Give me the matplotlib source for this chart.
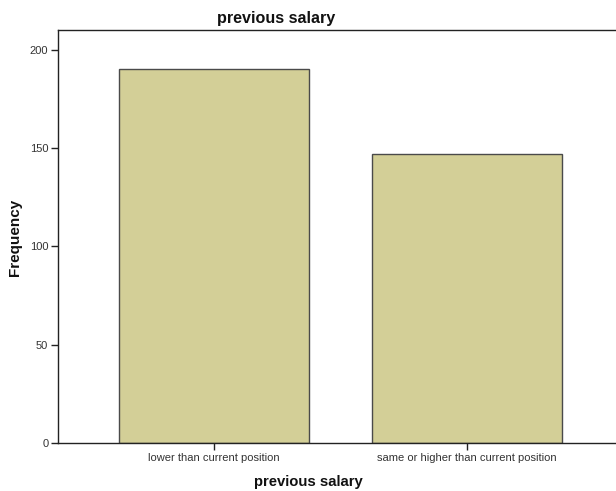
import matplotlib
matplotlib.use("Agg")
import matplotlib.pyplot as plt

categories = ["lower than current position", "same or higher than current position"]
frequencies = [190, 147]
y_ticks = [0, 50, 100, 150, 200]

plt.rcParams["font.family"] = ["Liberation Sans", "DejaVu Sans"]

fig = plt.figure(figsize=(6.16, 4.91), dpi=100)
ax = fig.add_axes([0.0942, 0.0978, 1.011 - 0.0942, 0.939 - 0.0978])

x = list(range(len(categories)))
ax.bar(x, frequencies, width=0.75, color="#D3CF97", edgecolor="#4a4a4a", linewidth=1.0)

ax.set_xlim(-0.617, 1.617)
ax.set_ylim(0, 210)
ax.set_yticks(y_ticks)
ax.set_yticklabels([str(t) for t in y_ticks])
ax.set_xticks(x)
ax.set_xticklabels(categories)

ax.tick_params(axis="both", direction="out", length=5, width=1, colors="#222222",
               labelsize=8, labelcolor="#333333", pad=2)

for s in ["left", "bottom", "top"]:
    ax.spines[s].set_color("#222222")
    ax.spines[s].set_linewidth(1.0)
ax.spines["right"].set_visible(False)

fig.text(276.5 / 616, 1 - 19 / 491, "previous salary", ha="center", va="center",
         fontsize=11.6, fontweight="bold", color="#111111")
fig.text(308.5 / 616, 1 - 482 / 491, "previous salary", ha="center", va="center",
         fontsize=10.7, fontweight="bold", color="#111111")
fig.text(15.5 / 616, 1 - 237 / 491, "Frequency", ha="center", va="center",
         rotation=90, fontsize=11, fontweight="bold", color="#111111")

fig.savefig("out.png", dpi=100)
